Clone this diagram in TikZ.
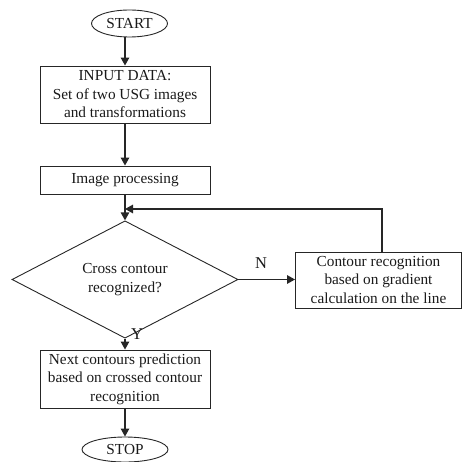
\documentclass[tikz,border=0pt]{standalone}
\usepackage{fontspec}
\setmainfont{Liberation Serif}
\usetikzlibrary{shapes.geometric,arrows.meta}
\begin{document}
\begin{tikzpicture}[x=1pt,y=-1pt,
  every node/.style={font=\fontsize{15.3}{18.5}\selectfont, text=black!90},
  box/.style={draw=black!85, line width=0.9pt, rectangle, align=center, inner sep=0pt},
  term/.style={draw=black!85, line width=0.9pt, ellipse, inner sep=0pt},
  dec/.style={draw=black!85, line width=0.9pt, diamond, align=center, inner sep=0pt},
  arr/.style={draw=black!85, line width=1.3pt, -{Triangle[length=8pt,width=8.5pt]}},
  lbl/.style={inner sep=0pt, font=\fontsize{16.5}{18}\selectfont}]
\useasboundingbox (0,0) rectangle (462,462);
\node[term, minimum width=76pt, minimum height=27pt] (start) at (129.5,23.5) {START};
\node[box, minimum width=170pt, minimum height=57pt] (input) at (125,94.5) {INPUT DATA:\\Set of two USG images\\and transformations};
\node[box, minimum width=170pt, minimum height=28pt] (proc) at (125,180) {Image processing};
\node[dec, minimum width=226pt, minimum height=85pt] (dec) at (125,279.5) {Cross contour\\recognized?};
\node[box, minimum width=166pt, minimum height=56pt] (cont) at (378.5,280) {Contour recognition\\based on gradient\\calculation on the line};
\node[box, minimum width=170pt, minimum height=58pt] (next) at (125,379) {Next contours prediction\\based on crossed contour\\recognition};
\node[term, minimum width=86pt, minimum height=25pt] (stop) at (125,449.5) {STOP};
\node[lbl] (nl) at (261,263) {N};
\node[lbl] (yl) at (137,334) {Y};
\coordinate (j) at (125,209);
\coordinate (ct) at ([xshift=3.5pt]cont.north);
\draw[arr] (start.south -| input.north) -- (input.north);
\draw[arr] (input) -- (proc);
\draw[arr] (proc) -- (dec);
\draw[arr] (dec.east) -- (cont.west |- dec.east);
\draw[arr] (ct) |- (j);
\draw[arr] (dec) -- (next);
\draw[arr] (next) -- (stop);
\end{tikzpicture}
\end{document}
